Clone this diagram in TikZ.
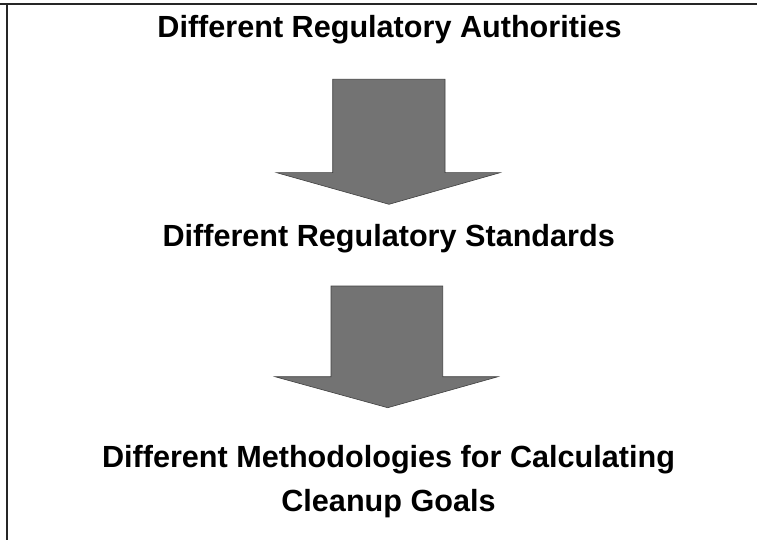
\documentclass[tikz,border=0pt]{standalone}
\usepackage{fontspec}
\setmainfont{Liberation Sans}
\tikzset{
	heading/.style={font=\fontsize{30.6}{44}\selectfont\bfseries, align=center, anchor=base, inner sep=0pt},
	blockarrow/.style={fill=black!55, draw=black!75, line width=0.6pt, line join=miter}
}
\begin{document}
\begin{tikzpicture}[x=1pt, y=-1pt]
		\useasboundingbox (0,0) rectangle (757,540);
		\draw[line width=1.3pt, black!85] (0,4)--(757,4) (7,4)--(7,540);
		\node[heading] (authorities) at (389.5,38) {Different Regulatory Authorities};
		\node[heading] (standards) at (388.7,246.7) {Different Regulatory Standards};
		\node[heading] (goals) at (388.5,511.7) {Different Methodologies for Calculating\\Cleanup Goals};
		% arrows
		\draw[blockarrow] (332.7,79.3)--(445,79.3)--(445,172.7)--(500,172.7)--(389,204.3)--(276.7,172.7)--(332.7,172.7)--cycle;
		\draw[blockarrow] (331,286)--(442.7,286)--(442.7,376.7)--(498,376.7)--(387.7,407.7)--(275,376.7)--(331,376.7)--cycle;
\end{tikzpicture}
\end{document}
